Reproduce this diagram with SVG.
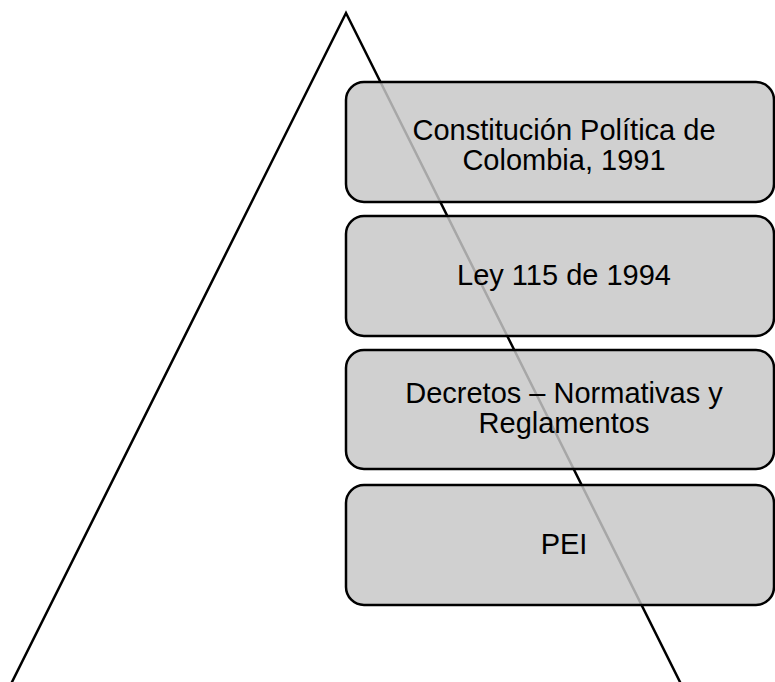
<svg xmlns="http://www.w3.org/2000/svg" width="775" height="682" viewBox="0 0 775 682">
<style>
.box{fill:#c7c7c7;fill-opacity:0.84;stroke:#000;stroke-width:2.5}
.t{font-family:"Liberation Sans",Arial,sans-serif;font-size:29px;fill:#000;text-anchor:middle}
.tri{fill:none;stroke:#000;stroke-width:2.5}
</style>
<rect width="775" height="682" fill="#fff"/>
<g id="connectors">
<path class="tri" d="M 8 690 L 346 13 L 684 690"/>
</g>
<g id="node1">
<rect class="box" x="346" y="82" width="428" height="120" rx="18"/>
<text class="t" x="564" y="140">Constitución Política de</text>
<text class="t" x="564" y="170">Colombia, 1991</text>
</g>
<g id="node2">
<rect class="box" x="346" y="216" width="428" height="120" rx="18"/>
<text class="t" x="564" y="285">Ley 115 de 1994</text>
</g>
<g id="node3">
<rect class="box" x="346" y="350" width="428" height="119" rx="18"/>
<text class="t" x="564" y="403">Decretos – Normativas y</text>
<text class="t" x="564" y="433">Reglamentos</text>
</g>
<g id="node4">
<rect class="box" x="346" y="485" width="428" height="120" rx="18"/>
<text class="t" x="564" y="554">PEI</text>
</g>
</svg>
